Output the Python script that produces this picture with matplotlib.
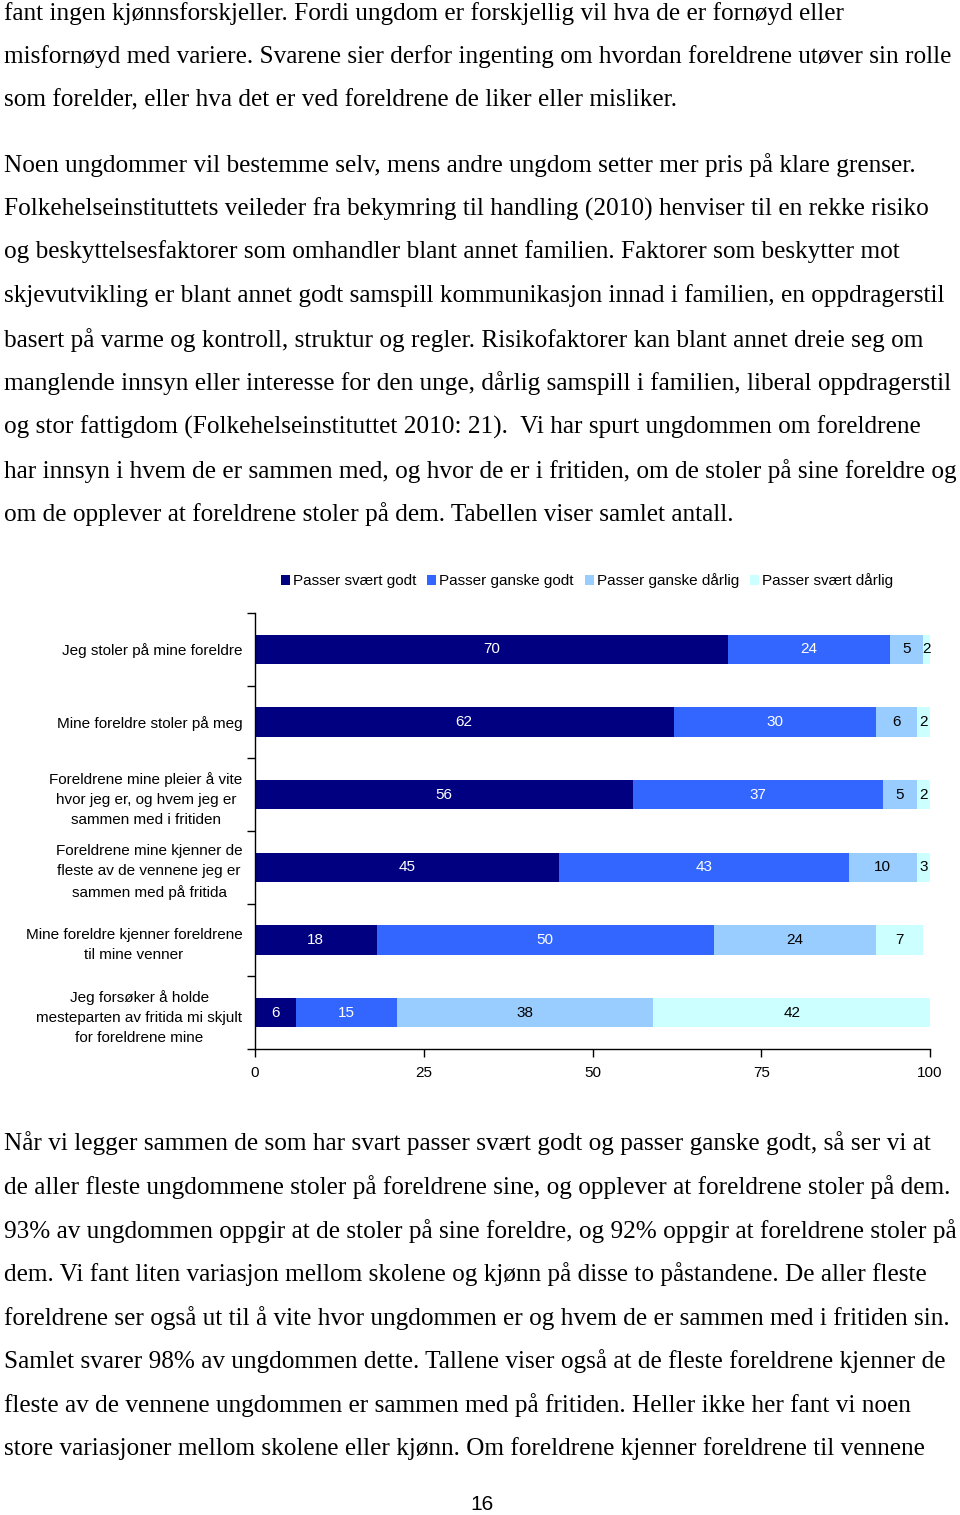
import matplotlib.pyplot as plt
import numpy as np

# Page text (Times-like body) above and below the chart
text_top = [
    "fant ingen kjønnsforskjeller. Fordi ungdom er forskjellig vil hva de er fornøyd eller",
    "misfornøyd med variere. Svarene sier derfor ingenting om hvordan foreldrene utøver sin rolle",
    "som forelder, eller hva det er ved foreldrene de liker eller misliker.",
    "Noen ungdommer vil bestemme selv, mens andre ungdom setter mer pris på klare grenser.",
    "Folkehelseinstituttets veileder fra bekymring til handling (2010) henviser til en rekke risiko",
    "og beskyttelsesfaktorer som omhandler blant annet familien. Faktorer som beskytter mot",
    "skjevutvikling er blant annet godt samspill kommunikasjon innad i familien, en oppdragerstil",
    "basert på varme og kontroll, struktur og regler. Risikofaktorer kan blant annet dreie seg om",
    "manglende innsyn eller interesse for den unge, dårlig samspill i familien, liberal oppdragerstil",
    "og stor fattigdom (Folkehelseinstituttet 2010: 21).  Vi har spurt ungdommen om foreldrene",
    "har innsyn i hvem de er sammen med, og hvor de er i fritiden, om de stoler på sine foreldre og",
    "om de opplever at foreldrene stoler på dem. Tabellen viser samlet antall.",
]
text_top_y = [14, 57, 100, 165, 209, 252, 296, 340, 383, 427, 471, 514]

text_bottom = [
    "Når vi legger sammen de som har svart passer svært godt og passer ganske godt, så ser vi at",
    "de aller fleste ungdommene stoler på foreldrene sine, og opplever at foreldrene stoler på dem.",
    "93% av ungdommen oppgir at de stoler på sine foreldre, og 92% oppgir at foreldrene stoler på",
    "dem. Vi fant liten variasjon mellom skolene og kjønn på disse to påstandene. De aller fleste",
    "foreldrene ser også ut til å vite hvor ungdommen er og hvem de er sammen med i fritiden sin.",
    "Samlet svarer 98% av ungdommen dette. Tallene viser også at de fleste foreldrene kjenner de",
    "fleste av de vennene ungdommen er sammen med på fritiden. Heller ikke her fant vi noen",
    "store variasjoner mellom skolene eller kjønn. Om foreldrene kjenner foreldrene til vennene",
]
text_bottom_y = [1143, 1187, 1231, 1274, 1318, 1361, 1405, 1449]

# Chart data
categories = [
    "Jeg stoler på mine foreldre",
    "Mine foreldre stoler på meg",
    "Foreldrene mine pleier å vite\nhvor jeg er, og hvem jeg er\nsammen med i fritiden",
    "Foreldrene mine kjenner de\nfleste av de vennene jeg er\nsammen med på fritida",
    "Mine foreldre kjenner foreldrene\ntil mine venner",
    "Jeg forsøker å holde\nmesteparten av fritida mi skjult\nfor foreldrene mine",
]
series_names = ["Passer svært godt", "Passer ganske godt",
                "Passer ganske dårlig", "Passer svært dårlig"]
svaert_godt = [70, 62, 56, 45, 18, 6]
ganske_godt = [24, 30, 37, 43, 50, 15]
ganske_darlig = [5, 6, 5, 10, 24, 38]
svaert_darlig = [2, 2, 2, 3, 7, 42]
x_ticks = [0, 25, 50, 75, 100]

colors = ["#000080", "#3366FF", "#99CCFF", "#CCFFFF"]
label_colors = ["white", "white", "black", "black"]

W, H = 960, 1515
fig = plt.figure(figsize=(W / 100, H / 100), dpi=100)

body_font = "Liberation Serif"
body_size = 18.2


def fy(px):
    return 1 - px / H


for line, y in zip(text_top, text_top_y):
    fig.text(4 / W, fy(y), line, family=body_font, fontsize=body_size, va="center", ha="left")
for line, y in zip(text_bottom, text_bottom_y):
    fig.text(4 / W, fy(y), line, family=body_font, fontsize=body_size, va="center", ha="left")
fig.text(482 / W, fy(1505), "16", family="Liberation Sans", fontsize=15, va="center", ha="center")

# Chart axes
chart_font = "Liberation Sans"
chart_size = 11
ax = fig.add_axes([255 / W, fy(1049), (930 - 255) / W, (1049 - 613) / H])

y = np.arange(len(categories))
left = np.zeros(len(categories))
for vals, name, col, lc in zip([svaert_godt, ganske_godt, ganske_darlig, svaert_darlig],
                               series_names, colors, label_colors):
    bars = ax.barh(y, vals, left=left, height=0.4, color=col, label=name)
    ax.bar_label(bars, labels=[str(v) for v in vals], label_type="center",
                 color=lc, fontsize=chart_size, family=chart_font)
    left += np.array(vals)

ax.set_xlim(0, 100)
ax.set_ylim(len(categories) - 0.5, -0.5)
ax.set_xticks(x_ticks)
ax.set_xticklabels([str(t) for t in x_ticks], family=chart_font, fontsize=chart_size)
ax.set_yticks(y)
ax.set_yticklabels(categories, family=chart_font, fontsize=chart_size, linespacing=1.55,
                   multialignment="center")
ax.tick_params(axis="y", which="major", length=0, pad=9)
ax.set_yticks(np.arange(-0.5, len(categories)), minor=True)
ax.tick_params(axis="y", which="minor", length=6, width=1)
ax.tick_params(axis="x", length=6, width=1, pad=6)
for s in ["top", "right"]:
    ax.spines[s].set_visible(False)
for s in ["left", "bottom"]:
    ax.spines[s].set_linewidth(1)

leg = fig.legend(loc="center", bbox_to_anchor=(587 / W, fy(581)), ncol=4, frameon=False,
                 prop={"family": chart_font, "size": chart_size}, handlelength=0.6,
                 handleheight=0.6, handletextpad=0.2, columnspacing=0.7)

fig.savefig("out.png", dpi=100)
